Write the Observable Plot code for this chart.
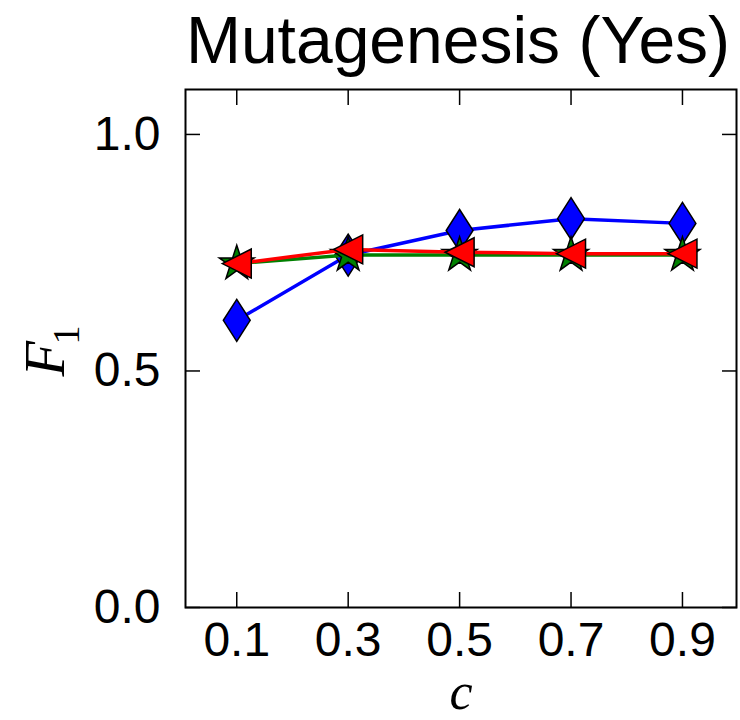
<!DOCTYPE html>
<html><head><meta charset="utf-8">
<script src="https://cdn.jsdelivr.net/npm/d3@7"></script>
<script src="https://cdn.jsdelivr.net/npm/@observablehq/plot@0.6"></script>
<style>
body{margin:0;background:#fff;}
#title{font-family:"Liberation Sans",Arial,sans-serif;font-size:66px;line-height:66px;height:80px;box-sizing:border-box;padding-top:7px;margin-left:184px;width:548px;text-align:center;color:#000;white-space:nowrap;}
#chart svg{display:block;}
</style></head><body>
<div id="title"></div>
<div id="chart"></div>
<script>
const titleText = "Mutagenesis (Yes)";
const xLabel = "c";
const yLabelMain = "F";
const yLabelSub = "1";
const cValues = [0.1, 0.3, 0.5, 0.7, 0.9];
const yTicks = [0.0, 0.5, 1.0];
const blueF1 = [0.607, 0.745, 0.797, 0.822, 0.812];
const greenF1 = [0.727, 0.745, 0.745, 0.745, 0.745];
const redF1 = [0.727, 0.757, 0.751, 0.748, 0.748];

document.getElementById("title").textContent = titleText;

const thinDiamond = {draw(ctx, size){ const r = Math.sqrt(size/Math.PI); const w = r*0.64;
  ctx.moveTo(0,-r); ctx.lineTo(w,0); ctx.lineTo(0,r); ctx.lineTo(-w,0); ctx.closePath(); }};
const triLeft = {draw(ctx, size){ const r = Math.sqrt(size/Math.PI);
  ctx.moveTo(-r,0); ctx.lineTo(r,-r); ctx.lineTo(r,r); ctx.closePath(); }};

const rows = (vals) => cValues.map((c,i) => ({c, f1: vals[i]}));
const series = [
  {vals: blueF1, color: "#0000ff", symbol: thinDiamond, r: 21},
  {vals: greenF1, color: "#008000", symbol: d3.symbolStar, r: 11},
  {vals: redF1, color: "#ff0000", symbol: triLeft, r: 14.5}
];

const marks = [];
for (const s of series) {
  const d = rows(s.vals);
  marks.push(Plot.line(d, {x: "c", y: "f1", stroke: s.color, strokeWidth: 3.5}));
  marks.push(Plot.dot(d, {x: "c", y: "f1", fill: s.color, stroke: "black", strokeWidth: 1.5, r: s.r, symbol: s.symbol, fillOpacity: 1}));
}

const font = "'Liberation Sans', Arial, sans-serif";
const serif = "'Liberation Serif', serif";
const plot = Plot.plot({
  width: 740, height: 640,
  marginLeft: 185, marginRight: 4, marginTop: 9, marginBottom: 113,
  style: {fontFamily: font, fontSize: "48px", color: "black", background: "white"},
  x: {domain: [0.008, 0.997]},
  y: {domain: [0, 1.095]},
  marks: [
    ...marks,
    Plot.axisX({anchor: "bottom", ticks: cValues, tickSize: -15, tickFormat: () => "", label: null, strokeWidth: 1.5}),
    Plot.axisX({anchor: "top", ticks: cValues, tickSize: -15, tickFormat: () => "", label: null, strokeWidth: 1.5}),
    Plot.axisX({anchor: "bottom", ticks: cValues, tickSize: 0, tickPadding: 14, tickFormat: d3.format(".1f"), label: null, fontSize: 48}),
    Plot.axisY({anchor: "left", ticks: yTicks, tickSize: -15, tickFormat: () => "", label: null, strokeWidth: 1.5}),
    Plot.axisY({anchor: "right", ticks: yTicks, tickSize: -15, tickFormat: () => "", label: null, strokeWidth: 1.5}),
    Plot.axisY({anchor: "left", ticks: yTicks, tickSize: 0, tickPadding: 25, tickFormat: d3.format(".1f"), label: null, fontSize: 48}),
    Plot.frame({stroke: "black", strokeWidth: 2}),
    Plot.text([xLabel], {frameAnchor: "bottom", dy: 101, lineAnchor: "bottom", fontFamily: serif, fontStyle: "italic", fontSize: 52}),
    Plot.text([yLabelMain], {frameAnchor: "left", dx: -122, dy: 28, rotate: -90, textAnchor: "start", lineAnchor: "bottom", fontFamily: serif, fontStyle: "italic", fontSize: 58}),
    Plot.text([yLabelSub], {frameAnchor: "left", dx: -107, dy: -4, rotate: -90, textAnchor: "start", lineAnchor: "bottom", fontFamily: serif, fontSize: 38})
  ]
});
document.getElementById("chart").appendChild(plot);
</script>
</body></html>
